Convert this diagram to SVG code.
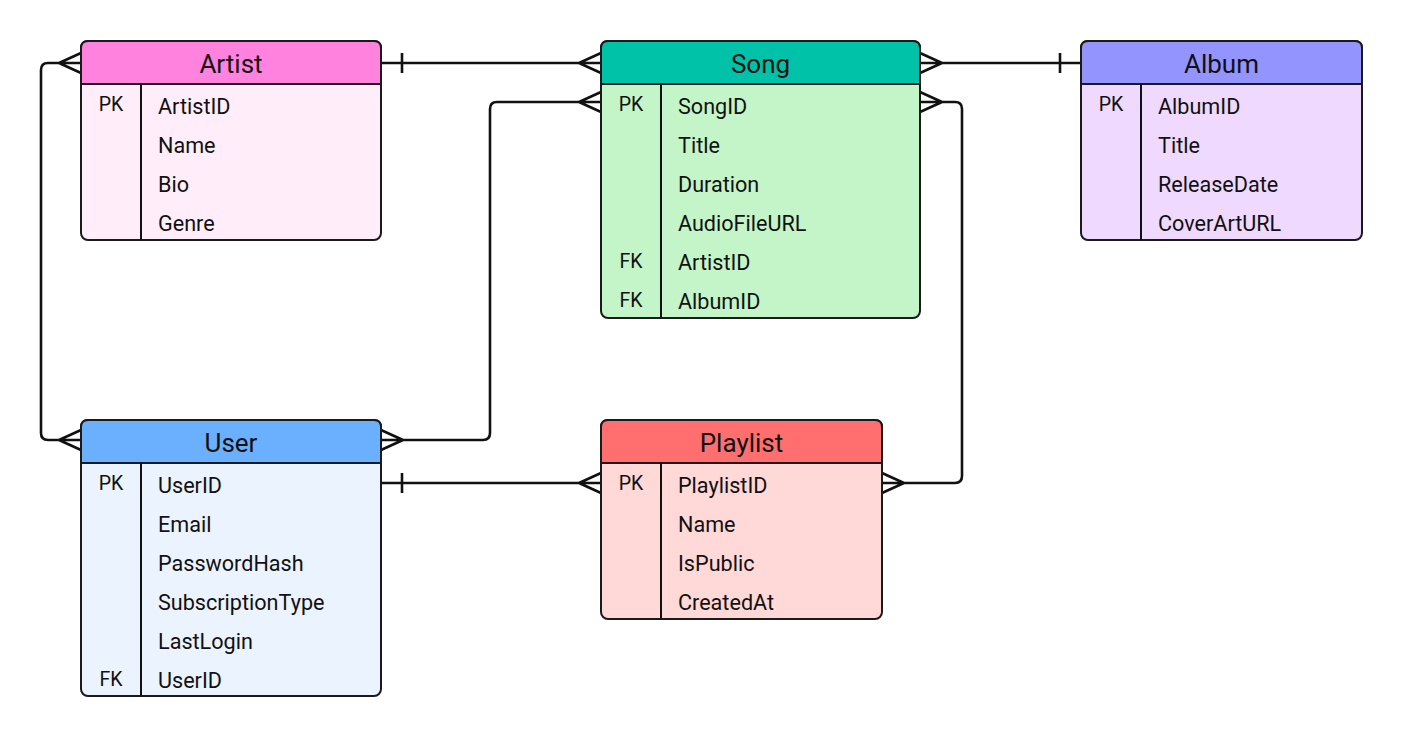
<svg xmlns="http://www.w3.org/2000/svg" width="1402" height="737" viewBox="0 0 1402 737">
<style>
.box{stroke:#1a1a1a;stroke-width:2}
.ln{stroke:#111;stroke-width:2;fill:none}
.title{font-family:Roboto,"Liberation Sans",sans-serif;font-size:26px;fill:#111;text-anchor:middle}
.f{font-family:Roboto,"Liberation Sans",sans-serif;font-size:21.6px;fill:#111}
.k{font-family:Roboto,"Liberation Sans",sans-serif;font-size:19.5px;fill:#111;text-anchor:middle}
.c{stroke:#111;stroke-width:2.6;fill:none;stroke-linejoin:round}
</style>
<rect width="1402" height="737" fill="#fff"/>
<g id="connectors">
<path class="c" d="M381 63 H601 M402 53 V73 M601 53 L579 63 L601 73"/>
<path class="c" d="M920 63 H1081 M1060 53 V73 M920 53 L942 63 L920 73"/>
<path class="c" d="M601 102 H497 Q490 102 490 109 V433 Q490 440 483 440 H381 M601 92 L579 102 L601 112 M381 430 L403 440 L381 450"/>
<path class="c" d="M81 63 H48 Q41 63 41 70 V433 Q41 440 48 440 H81 M81 53 L59 63 L81 73 M81 430 L59 440 L81 450"/>
<path class="c" d="M920 102 H955 Q962 102 962 109 V476 Q962 483 955 483 H882 M920 92 L942 102 L920 112 M882 473 L904 483 L882 493"/>
<path class="c" d="M381 483 H601 M402 473 V493 M601 473 L579 483 L601 493"/>
</g>
<g id="artist">
<rect class="box" x="81" y="41" width="300" height="199" rx="7" fill="#FFEEFA"/>
<path d="M81 84 V48 Q81 41 88 41 H374 Q381 41 381 48 V84 Z" fill="#FF82DF" class="box"/>
<path class="ln" d="M141 84 V240"/>
<text class="title" x="231" y="73">Artist</text>
<text class="k" x="111" y="111">PK</text>
<text class="f" x="158" y="114">ArtistID</text>
<text class="f" x="158" y="153">Name</text>
<text class="f" x="158" y="192">Bio</text>
<text class="f" x="158" y="231">Genre</text>
</g>
<g id="song">
<rect class="box" x="601" y="41" width="319" height="277" rx="7" fill="#C4F5C8"/>
<path d="M601 84 V48 Q601 41 608 41 H913 Q920 41 920 48 V84 Z" fill="#00C2A8" class="box"/>
<path class="ln" d="M661 84 V318"/>
<text class="title" x="760.5" y="73">Song</text>
<text class="k" x="631" y="111">PK</text>
<text class="k" x="631" y="268">FK</text>
<text class="k" x="631" y="307">FK</text>
<text class="f" x="678" y="114">SongID</text>
<text class="f" x="678" y="153">Title</text>
<text class="f" x="678" y="192">Duration</text>
<text class="f" x="678" y="231">AudioFileURL</text>
<text class="f" x="678" y="270">ArtistID</text>
<text class="f" x="678" y="309">AlbumID</text>
</g>
<g id="album">
<rect class="box" x="1081" y="41" width="281" height="199" rx="7" fill="#F0D9FF"/>
<path d="M1081 84 V48 Q1081 41 1088 41 H1355 Q1362 41 1362 48 V84 Z" fill="#9494FF" class="box"/>
<path class="ln" d="M1141 84 V240"/>
<text class="title" x="1221.5" y="73">Album</text>
<text class="k" x="1111" y="111">PK</text>
<text class="f" x="1158" y="114">AlbumID</text>
<text class="f" x="1158" y="153">Title</text>
<text class="f" x="1158" y="192">ReleaseDate</text>
<text class="f" x="1158" y="231">CoverArtURL</text>
</g>
<g id="user">
<rect class="box" x="81" y="420" width="300" height="276" rx="7" fill="#EBF3FF"/>
<path d="M81 463 V427 Q81 420 88 420 H374 Q381 420 381 427 V463 Z" fill="#6BAFFF" class="box"/>
<path class="ln" d="M141 463 V696"/>
<text class="title" x="231" y="452">User</text>
<text class="k" x="111" y="490">PK</text>
<text class="k" x="111" y="686">FK</text>
<text class="f" x="158" y="493">UserID</text>
<text class="f" x="158" y="532">Email</text>
<text class="f" x="158" y="571">PasswordHash</text>
<text class="f" x="158" y="610">SubscriptionType</text>
<text class="f" x="158" y="649">LastLogin</text>
<text class="f" x="158" y="688">UserID</text>
</g>
<g id="playlist">
<rect class="box" x="601" y="420" width="281" height="199" rx="7" fill="#FFD8D8"/>
<path d="M601 463 V427 Q601 420 608 420 H875 Q882 420 882 427 V463 Z" fill="#FF6F6F" class="box"/>
<path class="ln" d="M661 463 V619"/>
<text class="title" x="741.5" y="452">Playlist</text>
<text class="k" x="631" y="490">PK</text>
<text class="f" x="678" y="493">PlaylistID</text>
<text class="f" x="678" y="532">Name</text>
<text class="f" x="678" y="571">IsPublic</text>
<text class="f" x="678" y="610">CreatedAt</text>
</g>
</svg>
